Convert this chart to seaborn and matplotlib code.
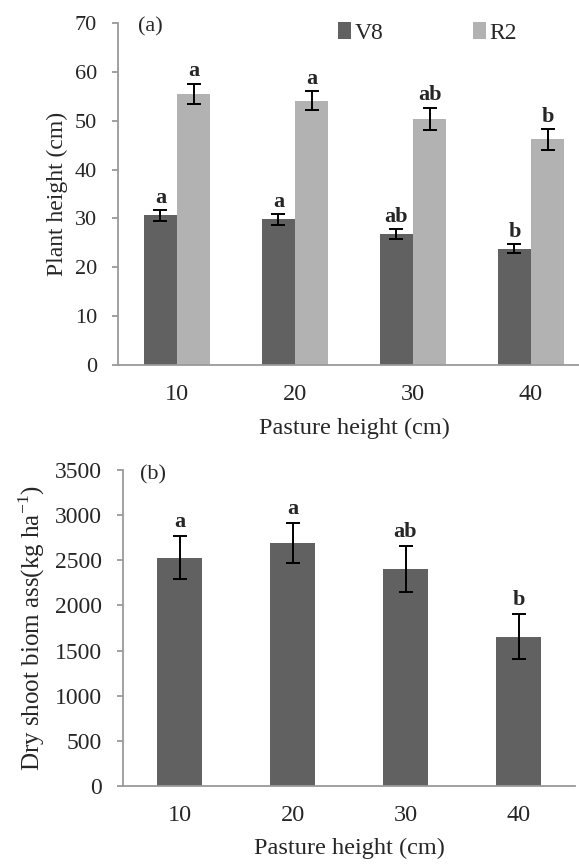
import matplotlib
matplotlib.use("Agg")
import matplotlib.pyplot as plt
import seaborn as sns
import pandas as pd
import numpy as np

# ---- data ----
pasture = ["10", "20", "30", "40"]
stages = ["V8", "R2"]
v8_height = [30.6, 29.8, 26.8, 23.8]
v8_err = [1.1, 1.1, 1.0, 0.9]
r2_height = [55.5, 54.1, 50.4, 46.2]
r2_err = [2.1, 2.0, 2.3, 2.1]
v8_letters = ["a", "a", "ab", "b"]
r2_letters = ["a", "a", "ab", "b"]

biomass = [2530, 2690, 2405, 1655]
biomass_err = [235, 225, 255, 245]
biomass_letters = ["a", "a", "ab", "b"]

sns.set_theme(style="white")
plt.rcParams['font.family'] = ['Liberation Serif', 'DejaVu Serif']
plt.rcParams['mathtext.fontset'] = 'custom'
plt.rcParams['mathtext.rm'] = 'Liberation Serif'

dark = "#616161"
light = "#b2b2b2"
axcol = "#9a9a9a"

W, H = 579, 864
fig = plt.figure(figsize=(W / 100, H / 100), dpi=100)


def px_axes(l, t, r, b):
    return fig.add_axes([l / W, 1 - b / H, (r - l) / W, (b - t) / H])


ax1 = px_axes(118, 23, 590, 365)
ax2 = px_axes(123, 470, 575, 786)

df1 = pd.DataFrame({
    "pasture": pasture * 2,
    "stage": ["V8"] * 4 + ["R2"] * 4,
    "height": v8_height + r2_height,
})
sns.barplot(data=df1, x="pasture", y="height", hue="stage", order=pasture,
            hue_order=stages, palette=[dark, light], width=0.56,
            errorbar=None, ax=ax1, saturation=1, linewidth=0)

bars = ax1.patches
errs = v8_err + r2_err
lets = v8_letters + r2_letters
vals = v8_height + r2_height
for p, e, l, v in zip(bars[:8], errs, lets, vals):
    xc = p.get_x() + p.get_width() / 2
    ax1.errorbar(xc, v, yerr=e, color="black", capsize=5, elinewidth=1.4, capthick=1.4)
    ax1.annotate(l, (xc, v + e), xytext=(0, 1.5), textcoords="offset points",
                 ha="center", va="bottom", fontsize=16, fontweight="bold")

ax1.set_ylim(0, 70)
ax1.set_yticks(range(0, 71, 10))
ax1.set_xlim(-0.5, 3.5)
ax1.set_xlabel("Pasture height (cm)", fontsize=17.5, labelpad=9)
ax1.set_ylabel("Plant height (cm)", fontsize=17, labelpad=5)
ax1.text(138 / W, 1 - 27 / H, "(a)", transform=fig.transFigure, fontsize=16,
         va="center", ha="left")
leg = ax1.legend(loc="upper left", bbox_to_anchor=(338 / W, 1 - 22 / H),
                 bbox_transform=fig.transFigure, ncol=2, frameon=False,
                 fontsize=17, handlelength=0.55, handleheight=0.75, handletextpad=0.15,
                 columnspacing=3.8, borderpad=0, borderaxespad=0)

df2 = pd.DataFrame({"pasture": pasture, "biomass": biomass})
sns.barplot(data=df2, x="pasture", y="biomass", order=pasture, color=dark,
            width=0.4, errorbar=None, ax=ax2, saturation=1, linewidth=0)
for p, e, l, v in zip(ax2.patches, biomass_err, biomass_letters, biomass):
    xc = p.get_x() + p.get_width() / 2
    ax2.errorbar(xc, v, yerr=e, color="black", capsize=5, elinewidth=1.4, capthick=1.4)
    ax2.annotate(l, (xc, v + e), xytext=(0, 3), textcoords="offset points",
                 ha="center", va="bottom", fontsize=16, fontweight="bold")
ax2.set_ylim(0, 3500)
ax2.set_yticks(range(0, 3501, 500))
ax2.set_xlim(-0.5, 3.5)
ax2.set_xlabel("Pasture height (cm)", fontsize=17.5, labelpad=8)
ax2.set_ylabel("Dry shoot biom ass(kg ha$^{\\mathregular{-1}}$)", fontsize=18, labelpad=6)
ax2.text(140 / W, 1 - 475 / H, "(b)", transform=fig.transFigure, fontsize=16,
         va="center", ha="left")

for ax, ylab in ((ax1, 16), (ax2, 17)):
    for s in ("top", "right"):
        ax.spines[s].set_visible(False)
    for s in ("left", "bottom"):
        ax.spines[s].set_color(axcol)
        ax.spines[s].set_linewidth(1.3)
    ax.set_xticks([-0.5, 0.5, 1.5, 2.5, 3.5], minor=True)
    ax.tick_params(axis="x", which="major", length=0, labelsize=17.5, pad=14)
    ax.tick_params(axis="x", which="minor", length=6, width=1.3, color=axcol, direction="out")
    ax.tick_params(axis="y", which="major", length=4, width=1.3, color=axcol,
                   direction="out", labelsize=ylab, left=True, pad=11)

fig.savefig("out.png", dpi=100)
